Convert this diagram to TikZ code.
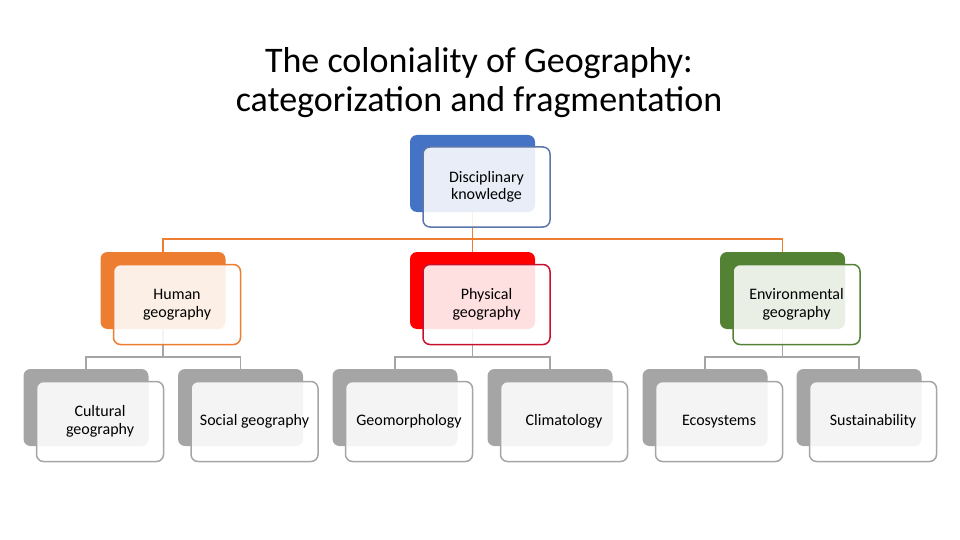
\documentclass[tikz,border=0pt]{standalone}
\usepackage{fontspec}
\setmainfont{Carlito}
\definecolor{cblue}{HTML}{4472C4}
\definecolor{cblueln}{HTML}{5A76AB}
\definecolor{corange}{HTML}{ED7D31}
\definecolor{cred}{HTML}{FF0000}
\definecolor{credln}{HTML}{C8102E}
\definecolor{cgreen}{HTML}{548235}
\definecolor{cgray}{HTML}{A5A5A5}
\tikzset{
  bk/.style={fill=#1, draw=none, rounded corners=7pt,
    minimum width=125pt, minimum height=77pt, inner sep=0pt},
  fr/.style={draw=#1, line width=1.5pt, fill=white, fill opacity=0.88,
    text opacity=1, rounded corners=7pt, minimum width=127pt,
    minimum height=80pt, inner sep=0pt, align=center,
    font=\fontsize{16}{17.5}\selectfont},
  conn/.style={draw=#1, line width=1.5pt}
}
\begin{document}
\begin{tikzpicture}[x=1pt,y=-1pt]
  \useasboundingbox (0,0) rectangle (960,540);
  \node[align=center, font=\fontsize{36}{39}\selectfont] (title) at (479,83)
    {The coloniality of Geography:\\categorization and fragmentation};

  % back shapes
  \node[bk=cblue] (dkb) at (472.5,173.5) {};
  \node[bk=corange] (hgb) at (163,290.5) {};
  \node[bk=cred] (pgb) at (472.5,290.5) {};
  \node[bk=cgreen] (egb) at (782.5,290.5) {};
  \node[bk=cgray] (cgb) at (86,407.5) {};
  \node[bk=cgray] (sgb) at (240.5,407.5) {};
  \node[bk=cgray] (gmb) at (395,407.5) {};
  \node[bk=cgray] (clb) at (550,407.5) {};
  \node[bk=cgray] (ecb) at (705,407.5) {};
  \node[bk=cgray] (sub) at (859,407.5) {};

  % connectors
  \coordinate (j1) at (472.5,239);
  \coordinate (j2) at (163,357);
  \coordinate (j3) at (472.5,357);
  \coordinate (j4) at (782.5,357);
  \draw[conn=corange] (dkb.south) -- (j1);
  \draw[conn=corange] (hgb.north) |- (j1);
  \draw[conn=corange] (pgb.north) -- (j1);
  \draw[conn=corange] (egb.north) |- (j1);
  \draw[conn=cgray] (hgb.south) -- (j2);
  \draw[conn=cgray] (cgb.north) |- (j2);
  \draw[conn=cgray] (sgb.north) |- (j2);
  \draw[conn=cgray] (pgb.south) -- (j3);
  \draw[conn=cgray] (gmb.north) |- (j3);
  \draw[conn=cgray] (clb.north) |- (j3);
  \draw[conn=cgray] (egb.south) -- (j4);
  \draw[conn=cgray] (ecb.north) |- (j4);
  \draw[conn=cgray] (sub.north) |- (j4);

  % front shapes
  \node[fr=cblueln] (dk) at (486.5,187) {Disciplinary\\knowledge};
  \node[fr=corange] (hg) at (177,304.5) {Human\\geography};
  \node[fr=credln] (pg) at (486.5,304.5) {Physical\\geography};
  \node[fr=cgreen] (eg) at (796.5,304.5) {Environmental\\geography};
  \node[fr=cgray] (cg) at (100,421.5) {Cultural\\geography};
  \node[fr=cgray] (sg) at (254.5,421.5) {Social geography};
  \node[fr=cgray] (gm) at (409,421.5) {Geomorphology};
  \node[fr=cgray] (cl) at (564,421.5) {Climatology};
  \node[fr=cgray] (ec) at (719,421.5) {Ecosystems};
  \node[fr=cgray] (su) at (873,421.5) {Sustainability};
\end{tikzpicture}
\end{document}
